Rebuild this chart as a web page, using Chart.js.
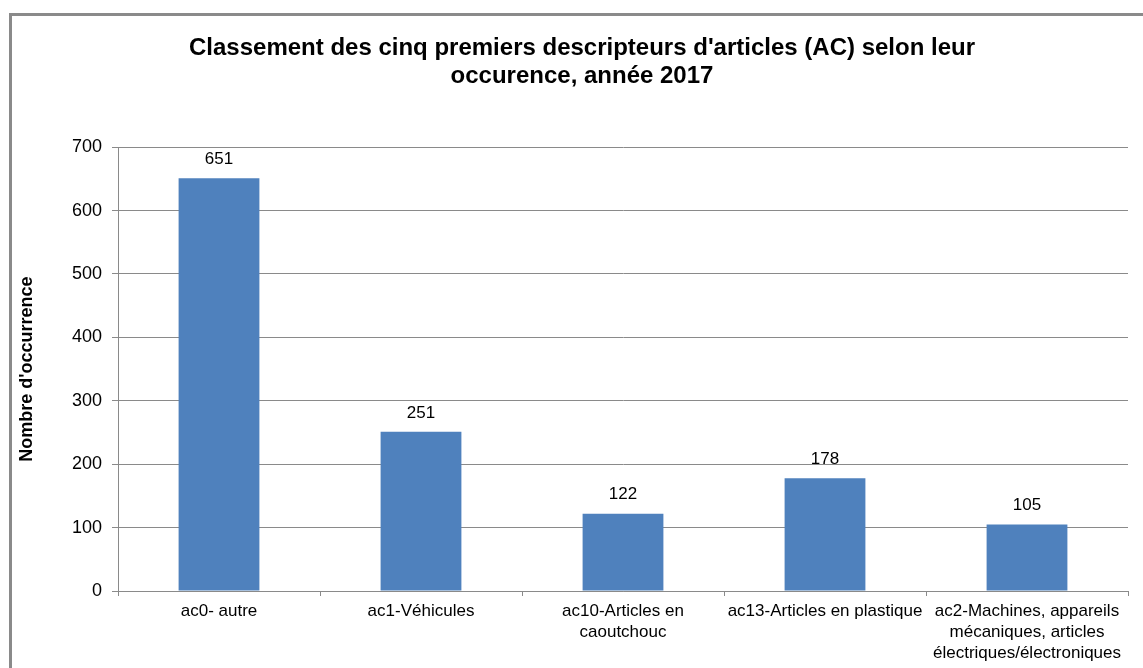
<!DOCTYPE html>
<html>
<head>
<meta charset="utf-8">
<script src="https://cdn.jsdelivr.net/npm/chart.js@4.4.0/dist/chart.umd.min.js"></script>
<style>
  body { margin: 0; background: #fff; }
  #frame { position: absolute; left: 9px; top: 13px; width: 1140px; height: 660px;
           border-left: 3px solid #8a8a8a; border-top: 3px solid #8a8a8a; }
  #wrap { position: absolute; left: 12px; top: 16px; width: 1131px; height: 652px; }
</style>
</head>
<body>
<div id="frame"></div>
<div id="wrap"><canvas id="myChart"></canvas></div>
<script>
var categories = [
  'ac0- autre',
  'ac1-Véhicules',
  ['ac10-Articles en', 'caoutchouc'],
  'ac13-Articles en plastique',
  ['ac2-Machines, appareils', 'mécaniques, articles', 'électriques/électroniques']
];
var occurrences = [651, 251, 122, 178, 105];
var yMin = 0, yMax = 700, yStep = 100;

var gridGrey = '#8a8a8a';
var fontName = '"Liberation Sans", Arial, sans-serif';

// valeurs au-dessus des barres
var valueLabels = {
  id: 'valueLabels',
  afterDatasetsDraw(chart) {
    var ctx = chart.ctx;
    var meta = chart.getDatasetMeta(0);
    ctx.save();
    ctx.font = '17px ' + fontName;
    ctx.fillStyle = '#000';
    ctx.textAlign = 'center';
    ctx.textBaseline = 'middle';
    meta.data.forEach(function (bar, i) {
      ctx.fillText(String(occurrences[i]), bar.x, bar.y - 19);
    });
    ctx.restore();
  }
};

// titre un peu décalé vers la droite, comme dans Excel
var shiftTitle = {
  id: 'shiftTitle',
  afterLayout(chart) {
    if (chart.titleBlock) {
      chart.titleBlock.left += 12;
      chart.titleBlock.right += 12;
    }
  }
};

var ctx = document.getElementById('myChart').getContext('2d');
new Chart(ctx, {
  type: 'bar',
  data: {
    labels: categories,
    datasets: [{
      data: occurrences,
      backgroundColor: '#4f81bd',
      barPercentage: 0.4,
      categoryPercentage: 1
    }]
  },
  options: {
    responsive: true,
    maintainAspectRatio: false,
    animation: false,
    layout: { padding: { left: 0, right: 15, top: 0, bottom: 0 } },
    plugins: {
      legend: { display: false },
      tooltip: { enabled: false },
      title: {
        display: true,
        text: ['Classement des cinq premiers descripteurs d\'articles (AC) selon leur', 'occurence, année 2017'],
        color: '#000',
        font: { family: fontName, size: 24, weight: 'bold', lineHeight: 1.17 },
        padding: { top: 18, bottom: 57 }
      }
    },
    scales: {
      x: {
        afterFit: function (s) { s.height = 77; },
        grid: { display: true, drawOnChartArea: false, offset: true, tickLength: 5, color: gridGrey },
        border: { display: true, color: gridGrey },
        ticks: {
          color: '#000',
          font: { family: fontName, size: 17, lineHeight: 1.22 },
          maxRotation: 0, autoSkip: false, padding: 5
        }
      },
      y: {
        min: yMin, max: yMax,
        afterFit: function (s) { s.width = 106; },
        grid: { color: gridGrey, tickLength: 6 },
        border: { display: true, color: gridGrey },
        ticks: {
          stepSize: yStep, color: '#000', padding: 10,
          font: { family: fontName, size: 18 }
        },
        title: {
          display: true,
          text: 'Nombre d\'occurrence',
          color: '#000',
          font: { family: fontName, size: 18, weight: 'bold', lineHeight: 1.2 }
        }
      }
    }
  },
  plugins: [valueLabels, shiftTitle]
});
</script>
</body>
</html>
